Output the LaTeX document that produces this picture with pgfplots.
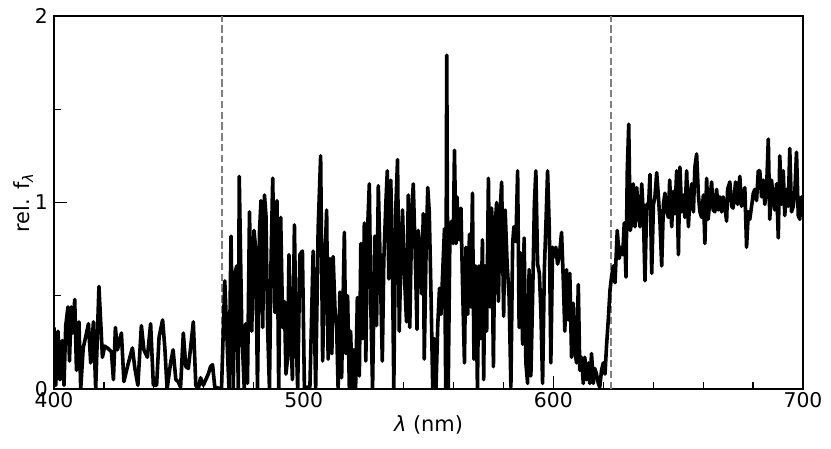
\documentclass[border=0pt]{standalone}
\usepackage{pgfplots}
\pgfplotsset{compat=1.18}
\usepackage{fontspec}
\setmainfont{DejaVu Sans}
\begin{document}
\fontsize{10.2}{12}\selectfont
\begin{tikzpicture}
\begin{axis}[
  scale only axis,
  width=374.5bp, height=186.5bp,
  xmin=400, xmax=700, ymin=0, ymax=2,
  xtick={400,500,600,700}, ytick={0,1,2},
  minor x tick num=4, minor y tick num=1,
  tick pos=left, tick align=inside,
  major tick length=6.5bp, minor tick length=3.5bp,
  every tick/.style={black, line width=0.6bp},
  axis line style={black, line width=0.7bp},
  /pgf/number format/assume math mode=true,
  tick label style={font=\fontsize{10.2}{12}\selectfont},
  yticklabel style={xshift=0.5bp},
  xticklabel style={yshift=2bp},
  xlabel={\textit{λ} (nm)},
  ylabel={rel. f\textsubscript{\textit{λ}}},
  xlabel style={at={(axis description cs:0.5,-0.0965)}, anchor=center, font=\fontsize{10.5}{12}\selectfont},
  ylabel style={at={(axis description cs:-0.041,0.5)}, anchor=center, font=\fontsize{10.5}{12}\selectfont},
]
\addplot[black!50, line width=1.2bp, dash pattern=on 3.7bp off 1.7bp] coordinates {(467.3,0) (467.3,2)};
\addplot[black!50, line width=1.2bp, dash pattern=on 3.7bp off 1.7bp] coordinates {(623.1,0) (623.1,2)};
\addplot[black, line width=1.8bp, line join=round] coordinates {
(400.0,0.33) (400.7,0.02) (401.6,0.31) (402.4,0.05) (403.3,0.26) (404.0,0.02) (404.7,0.34) (405.6,0.44) (406.2,0.15) (406.9,0.44) (407.5,0.30) (408.3,0.48) (409.0,0.10) (410.0,0.36) (410.7,0.0) (411.7,0.22) (412.7,0.28) (413.8,0.35) (414.7,0.14) (415.8,0.36) (416.7,0.0) (418.0,0.55) (419.4,0.17) (420.3,0.23) (421.4,0.22) (423.0,0.20) (423.8,0.05) (424.6,0.33) (425.4,0.21) (427.0,0.30) (428.0,0.04) (429.6,0.13) (431.4,0.22) (432.4,0.11) (433.6,0.02) (435.0,0.34) (436.0,0.21) (437.4,0.17) (438.7,0.35) (439.8,0.02)
(441.1,0.02) (442.1,0.28) (443.5,0.37) (444.4,0.22) (445.3,0.0) (446.7,0.14) (447.7,0.21) (448.8,0.05) (449.7,0.04) (450.7,0.01) (451.8,0.30) (452.8,0.12) (453.8,0.11) (454.7,0.22) (455.8,0.36) (456.8,0.02) (457.8,0.0) (458.7,0.06) (459.8,0.02) (460.8,0.05) (461.8,0.08) (462.7,0.12) (463.5,0.13) (464.4,0.01) (467.1,0.0) (468.4,0.58) (469.6,0.16) (470.1,0.0)
(470.9,0.82) (471.8,0.0) (472.5,0.62) (473.2,0.66) (473.8,0.0) (474.2,1.14) (475.2,0.33) (476.2,0.0) (476.8,0.35) (477.5,0.03) (478.3,0.95) (479.2,0.31) (480.1,0.85) (480.8,0.75) (481.5,0.0) (482.3,0.84) (482.9,1.01) (483.6,0.33) (484.3,1.04) (484.9,0.93) (485.6,0.31) (486.3,0.0) (486.9,0.66) (487.6,1.13) (488.5,0.41) (489.3,1.01) (490.0,0.0) (490.8,0.92) (491.6,0.33) (492.3,0.47) (492.9,0.08) (493.6,0.17) (494.1,0.72) (494.8,0.33) (495.5,0.05) (496.3,0.88) (496.9,0.33) (497.6,0.0) (498.5,0.72) (499.5,0.74) (500.3,0.0) (501.2,0.01) (502.5,0.01)
(503.8,0.74) (504.8,0.0) (505.8,0.86) (506.8,1.25) (507.6,0.15) (508.5,0.68) (509.2,0.96) (509.8,0.16) (510.5,0.70) (511.3,0.19) (511.8,0.71) (512.6,0.41) (513.2,0.34) (513.8,0.0) (514.5,0.52) (515.2,0.06) (516.3,0.84) (516.9,0.19) (517.6,0.50) (518.3,0.0) (518.8,0.31) (519.5,0.0) (520.1,0.21) (520.8,0.0) (521.5,0.49) (522.3,0.07) (522.9,0.78) (523.6,0.27) (524.3,0.89) (524.9,0.15) (525.5,0.82) (526.3,1.10) (526.9,0.44) (527.6,0.0) (528.5,0.82) (529.2,0.34) (529.9,1.09) (530.5,0.76) (531.5,0.15) (532.1,0.69) (532.9,0.99) (533.5,1.17) (534.1,0.59) (534.9,1.12) (535.6,0.62) (536.1,0.0) (536.9,0.97) (537.6,1.23) (538.3,0.31) (539.0,0.76) (539.6,0.96) (540.3,0.62) (541.2,0.36) (541.9,1.04)
(542.5,0.33) (543.3,0.94) (543.9,1.10) (544.6,0.76) (545.4,0.32) (545.9,0.85) (546.6,0.76) (547.3,0.51) (547.9,0.94) (548.3,0.16) (549.0,0.71) (549.7,1.08) (550.3,0.95) (551.0,0.51) (551.7,0.0) (552.3,0.27) (553.0,0.0) (553.7,0.34) (554.4,0.54) (555.0,0.40) (555.7,0.63) (556.4,0.86) (556.9,0.0) (557.3,1.79) (557.9,0.0) (558.6,0.86) (559.3,0.90) (559.9,0.78) (560.4,1.28) (561.0,0.78) (561.4,1.03) (562.2,0.80) (563.0,0.97) (563.6,0.58) (564.4,0.14) (565.0,0.76) (565.7,0.40) (566.4,0.83) (567.0,0.44) (567.6,1.05) (568.2,0.16) (568.9,0.66) (569.6,0.0) (570.2,0.66) (570.9,0.27) (571.6,0.80) (572.1,0.05) (572.6,0.66) (573.3,0.31) (574.0,1.13) (574.6,0.44) (575.3,0.97) (576.0,0.12) (576.6,0.86) (577.3,1.0) (578.0,0.47) (578.7,0.95) (579.3,1.11)
(580.1,0.39) (580.7,0.96) (581.5,0.67) (582.3,0.49) (583.0,0.01) (583.7,0.78) (584.2,0.87) (585.0,0.79) (585.7,1.17) (586.3,0.33) (586.9,0.73) (587.7,0.24) (588.3,0.81) (589.0,0.14) (589.7,0.03) (590.3,0.64) (591.0,0.07) (591.7,0.49) (592.4,0.99) (593.0,1.17) (593.7,0.67) (594.4,0.62) (595.0,0.42) (595.7,0.03) (596.4,0.64) (597.0,0.87) (597.7,1.17) (598.4,0.85) (599.0,0.14) (599.7,0.76) (600.4,0.71) (601.0,0.76) (601.7,0.67) (602.4,0.71) (603.3,0.84) (604.0,0.58) (604.6,0.31) (605.3,0.64) (606.0,0.37) (606.6,0.62) (607.3,0.17) (608.0,0.46) (608.6,0.21) (609.3,0.14) (610.0,0.56) (610.6,0.10) (611.3,0.17) (612.0,0.03) (612.6,0.17) (613.3,0.05) (614.0,0.14) (614.6,0.03) (615.3,0.19) (616.0,0.03) (616.6,0.11) (617.3,0.08) (618.0,0.03) (618.6,0.01) (619.3,0.10) (620.0,0.14) (620.7,0.08) (621.3,0.23) (622.0,0.37) (622.7,0.53) (623.3,0.60)
(624.0,0.66) (624.7,0.57) (625.6,0.85) (626.4,0.70) (627.1,0.76) (627.8,0.72) (628.4,0.89) (629.1,0.60) (629.6,1.16) (630.2,1.42) (630.8,0.85) (631.5,0.90) (632.0,1.10) (632.7,0.87) (633.4,1.08) (634.0,0.95) (634.7,0.87) (635.4,1.10) (636.1,0.92) (636.7,0.58) (637.4,0.99) (638.1,0.97) (638.7,1.15) (639.4,0.62) (640.1,0.99) (640.7,1.03) (641.4,1.16) (642.1,1.03) (642.7,0.90) (643.4,0.66) (644.1,0.99) (644.7,1.05) (645.4,0.95) (646.1,0.92) (646.6,1.12) (647.4,0.87) (648.1,1.06) (648.7,0.94) (649.4,1.17) (650.1,0.72) (650.7,1.19) (651.4,0.95) (652.1,1.04) (652.7,0.92) (653.4,1.17) (654.1,0.87) (654.7,1.03) (655.4,1.10) (656.1,0.95) (656.7,1.19) (657.4,1.26) (658.1,1.04) (658.7,0.95) (659.4,0.92) (660.1,1.04) (660.7,0.78) (661.4,1.13)
(662.0,0.91) (662.7,1.01) (663.4,1.11) (664.0,0.96) (664.7,0.95) (665.4,1.07) (666.0,0.96) (666.7,1.03) (667.4,0.95) (668.0,1.03) (668.7,0.98) (669.4,0.90) (669.8,1.07) (670.7,1.11) (671.4,0.98) (672.0,0.97) (673.0,1.11) (673.8,0.99) (674.7,1.14) (675.4,0.98) (676.1,1.03) (676.7,1.08) (677.4,0.76) (678.1,0.95) (678.7,0.91) (679.4,0.98) (680.1,1.05) (680.7,1.07) (681.4,1.01) (682.1,1.17) (682.7,1.17) (683.4,1.03) (684.1,1.12) (684.7,0.99) (685.4,1.07) (686.1,1.34) (686.7,0.91) (687.4,1.12) (688.1,1.01) (688.7,0.96) (689.4,1.10) (690.1,0.81) (690.7,1.25) (691.4,0.99) (692.1,1.17) (692.7,0.93) (693.4,1.07) (694.1,0.98) (694.7,1.29) (695.4,0.95) (696.1,0.98) (696.7,1.05) (697.4,1.27) (698.1,0.93) (698.7,0.91) (699.4,1.03) (700.0,0.98)
};
\end{axis}
\path ([shift={(-27bp,-30bp)}]current axis.south west) rectangle ([shift={(14bp,8bp)}]current axis.north east);
\end{tikzpicture}
\end{document}
